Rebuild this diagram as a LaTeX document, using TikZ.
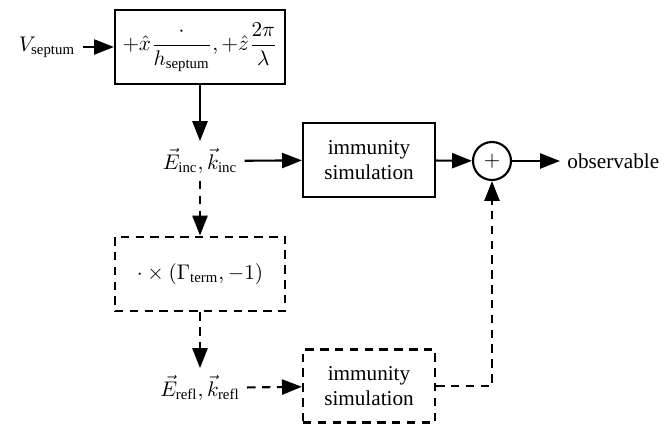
\documentclass[tikz,border=0pt]{standalone}
\usepackage{fontspec}
\setmainfont{Liberation Serif}
\usetikzlibrary{arrows.meta}
\begin{document}
\begin{tikzpicture}[x=0.01658cm,y=-0.01658cm,
	blk/.style={draw,line width=1pt,minimum width=2.82cm,minimum height=1.24cm,inner sep=2pt},
	simblk/.style={blk,minimum width=2.19cm,align=center},
	dsh/.style={dash pattern=on 4pt off 3pt},
	flow/.style={-{Triangle[length=3.3mm,width=2.5mm]},line width=1pt}]
	\useasboundingbox (0,0) rectangle (665,425);
	\node (vsep) at (47,47) {$V_{\mathrm{septum}}$};
	\node[blk] (kbox) at (200,47) {$+\hat{x}\displaystyle\frac{\cdot}{h_{\mathrm{septum}}},+\hat{z}\frac{2\pi}{\lambda}$};
	\node (einc) at (200,161) {$\vec{E}_{\mathrm{inc}},\vec{k}_{\mathrm{inc}}$};
	\node[simblk] (sim1) at (369,160) {immunity\\simulation};
	\node[draw,circle,line width=1pt,minimum size=0.63cm,inner sep=0pt] (sum) at (492,161) {$+$};
	\node[anchor=west] (obs) at (560,161) {observable};
	\node[blk,dsh] (gbox) at (200,274) {$\cdot\times\left(\Gamma_{\mathrm{term}},-1\right)$};
	\node (erefl) at (200,388) {$\vec{E}_{\mathrm{refl}},\vec{k}_{\mathrm{refl}}$};
	\node[simblk,dsh,minimum height=1.21cm] (sim2) at (369,386) {immunity\\simulation};
	\foreach \from/\to in {vsep/kbox,kbox/einc,einc/sim1,sim1/sum,sum/obs}
	\draw[flow] (\from) -- (\to);
	\foreach \from/\to in {einc/gbox,gbox/erefl,erefl/sim2}
	\draw[flow,dsh] (\from) -- (\to);
	\draw[flow,dsh] (sim2.east) -| (sum.south);
\end{tikzpicture}
\end{document}
